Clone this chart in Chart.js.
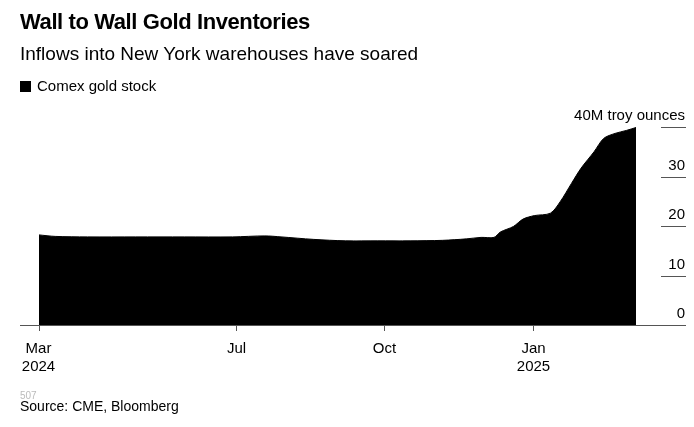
<!DOCTYPE html>
<html>
<head>
<meta charset="utf-8">
<script src="https://cdn.jsdelivr.net/npm/chart.js@4"></script>
<style>
  body { margin: 0; background: #fff; font-family: "Liberation Sans", Arial, sans-serif; }
  #wrap { position: relative; width: 694px; height: 427px; }
  canvas { position: absolute; left: 0; top: 0; }
  .t { position: absolute; left: 20px; white-space: nowrap; color: #000; }
</style>
</head>
<body>
<div id="wrap">
  <canvas id="c" width="694" height="427"></canvas>
  <div class="t" style="top:9px;font-size:22px;font-weight:bold;letter-spacing:-0.4px">Wall to Wall Gold Inventories</div>
  <div class="t" style="top:43px;font-size:19px">Inflows into New York warehouses have soared</div>
  <div class="t" style="top:77px;font-size:15px"><span style="display:inline-block;width:11px;height:11px;background:#000;margin-right:6px;vertical-align:-1px"></span>Comex gold stock</div>
  <div class="t" style="top:390px;font-size:10px;color:#bbb">507</div>
  <div class="t" style="top:398px;font-size:14px">Source: CME, Bloomberg</div>
</div>
<script>
// days since 2024-03-01
const days = [0, 10, 30, 60, 90, 120, 140, 150, 170, 190, 210, 230, 250, 265, 274, 282, 286, 294, 300, 307, 317, 323, 330, 336, 344, 350, 357, 364, 370];
const stock = [18.2, 17.9, 17.8, 17.8, 17.8, 17.8, 18.0, 17.8, 17.3, 17.0, 17.0, 17.0, 17.1, 17.4, 17.7, 17.7, 18.8, 19.9, 21.4, 22.1, 22.6, 24.9, 28.6, 31.7, 35.0, 37.7, 38.7, 39.3, 39.9];
const xTickDays = [0, 122, 214, 306];
const xTickLabels = [["Mar", "2024"], ["Jul"], ["Oct"], ["Jan", "2025"]];
const yTicks = [0, 10, 20, 30, 40];
const yTickLabels = ["0", "10", "20", "30", "40M troy ounces"];

const axesPlugin = {
  id: "axes",
  afterDraw(chart) {
    const ctx = chart.ctx, x = chart.scales.x, y = chart.scales.y;
    const base = y.getPixelForValue(0);
    ctx.save();
    ctx.strokeStyle = "#555"; ctx.lineWidth = 1;
    ctx.beginPath(); ctx.moveTo(20, base + 0.5); ctx.lineTo(686, base + 0.5); ctx.stroke();
    ctx.fillStyle = "#000"; ctx.font = "15px 'Liberation Sans', Arial, sans-serif";
    ctx.textAlign = "center"; ctx.textBaseline = "top";
    xTickDays.forEach((d, i) => {
      const px = Math.round(x.getPixelForValue(d)) + 0.5;
      ctx.beginPath(); ctx.moveTo(px, base); ctx.lineTo(px, base + 6); ctx.stroke();
      xTickLabels[i].forEach((s, j) => {
        ctx.fillText(s, px - (i === 0 ? 1 : 0), base + 16 + j * 18);
      });
    });
    ctx.textAlign = "right"; ctx.textBaseline = "alphabetic";
    yTicks.forEach((v, i) => {
      const py = Math.round(y.getPixelForValue(v)) + 0.5;
      if (v > 0) { ctx.beginPath(); ctx.moveTo(661, py); ctx.lineTo(686, py); ctx.stroke(); }
      ctx.fillText(yTickLabels[i], 685, py - 8);
    });
    ctx.restore();
  }
};

new Chart(document.getElementById("c"), {
  type: "line",
  data: {
    datasets: [{
      data: days.map((d, i) => ({ x: d, y: stock[i] })),
      borderColor: "#000", backgroundColor: "#000", borderWidth: 1,
      fill: "origin", pointRadius: 0, tension: 0.3
    }]
  },
  options: {
    responsive: false, animation: false,
    layout: { padding: { left: 39, right: 58, top: 127, bottom: 102 } },
    scales: {
      x: { type: "linear", min: 0, max: 370, display: false },
      y: { min: 0, max: 40, display: false }
    },
    plugins: { legend: { display: false }, tooltip: { enabled: false } }
  },
  plugins: [axesPlugin]
});
</script>
</body>
</html>
